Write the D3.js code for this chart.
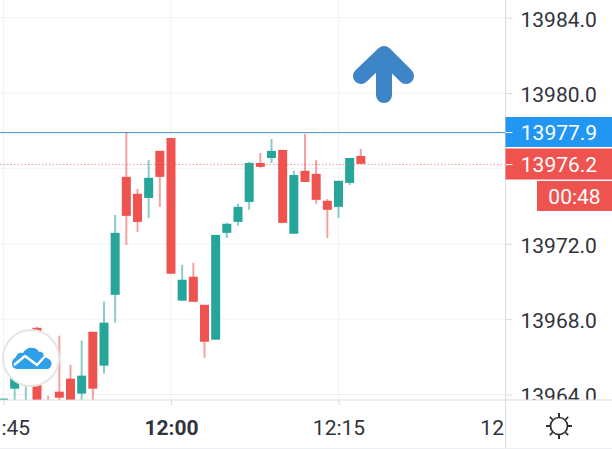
<!DOCTYPE html>
<html><head><meta charset="utf-8">
<script src="https://cdnjs.cloudflare.com/ajax/libs/d3/7.8.5/d3.min.js"></script>
<style>html,body{margin:0;padding:0;background:#fff;overflow:hidden}svg{display:block}text{font-family:Roboto,sans-serif}</style>
</head><body><svg id="c" width="612" height="449"></svg>
<script>
const minutes = [-15,-14,-13,-12,-11,-10,-9,-8,-7,-6,-5,-4,-3,-2,-1,0,1,2,3,4,5,6,7,8,9,10,11,12,13,14,15,16,17];
const opens  = [13963.2,13964.31,13965.2,13967.54,13963.7,13964.15,13964.84,13964.05,13967.33,13965.53,13969.29,13975.55,13974.65,13974.43,13976.93,13977.61,13968.98,13970.25,13968.76,13966.91,13972.58,13973.16,13974.22,13976.29,13976.55,13976.98,13972.53,13975.87,13975.71,13974.28,13973.96,13975.23,13976.66];
const highs  = [13963.78,13965.0,13966.2,13967.6,13963.94,13967.12,13965.58,13966.86,13967.33,13968.92,13973.53,13977.93,13974.91,13976.45,13976.93,13977.61,13970.88,13970.99,13968.76,13972.47,13973.12,13974.12,13976.35,13976.82,13977.56,13976.98,13975.87,13977.83,13976.45,13974.38,13975.34,13976.55,13977.03];
const lows   = [13963.2,13963.5,13963.3,13963.3,13963.3,13963.5,13963.3,13963.4,13963.5,13965.11,13967.81,13971.94,13972.63,13973.37,13973.96,13970.41,13968.98,13968.92,13965.95,13966.91,13972.31,13972.95,13973.8,13976.03,13976.29,13973.11,13972.53,13975.28,13974.12,13972.31,13973.37,13975.12,13976.24];
const closes = [13963.78,13964.9,13966.0,13963.5,13963.4,13963.83,13963.46,13965.0,13964.31,13967.81,13972.58,13973.48,13973.16,13975.5,13975.55,13970.41,13970.09,13968.92,13966.8,13972.47,13973.06,13973.96,13976.29,13976.08,13976.93,13973.11,13975.65,13975.28,13974.33,13973.8,13975.34,13976.55,13976.24];
const priceTicks = [13964,13968,13972,13976,13980,13984];
const labelledPriceTicks = [13964,13968,13972,13980,13984];
const timeTicks = [[11,45],[12,0],[12,15],[12,30]];
const askPrice = 13977.9, lastPrice = 13976.2, countdown = "00:48";

const UP="#26a69a", DOWN="#ef5350", GRID="#f2f3f5", AXIS="#d9dbdf", INK="#2f333b";
const svg=d3.select("#c");
const W=505.5, H=400;
const y=d3.scaleLinear().domain([13964,13980]).range([394.5,93]);
const at=(h,m)=>new Date(2021,0,4,h,m);
const x=d3.scaleTime().domain([at(11,45),at(12,30)]).range([3.5,506]);

const defs=svg.append("defs");
defs.append("clipPath").attr("id","pane").append("rect").attr("width",W).attr("height",H);
defs.append("clipPath").attr("id","priceClip").append("rect").attr("x",W).attr("width",612-W).attr("height",H);
defs.append("clipPath").attr("id","timeClip").append("rect").attr("y",H).attr("width",W).attr("height",449-H);

const pane=svg.append("g").attr("clip-path","url(#pane)");
pane.append("g").selectAll("line").data(priceTicks).join("line")
  .attr("x1",0).attr("x2",W).attr("y1",d=>y(d)).attr("y2",d=>y(d)).attr("stroke",GRID);
pane.append("g").selectAll("line").data(timeTicks).join("line")
  .attr("x1",d=>x(at(d[0],d[1]))).attr("x2",d=>x(at(d[0],d[1]))).attr("y1",0).attr("y2",H).attr("stroke",GRID);

const candles=minutes.map((m,i)=>({t:at(12,m),o:opens[i],h:highs[i],l:lows[i],c:closes[i]}));
const col=d=>d.c>=d.o?UP:DOWN;
pane.append("g").selectAll("line").data(candles).join("line")
  .attr("x1",d=>x(d.t)).attr("x2",d=>x(d.t)).attr("y1",d=>y(d.h)).attr("y2",d=>y(d.l))
  .attr("stroke",col).attr("stroke-width",2).attr("stroke-opacity",.55);
pane.append("g").selectAll("rect").data(candles).join("rect")
  .attr("x",d=>x(d.t)-4.5).attr("width",9)
  .attr("y",d=>y(Math.max(d.o,d.c))).attr("height",d=>Math.abs(y(d.o)-y(d.c)))
  .attr("fill",col);

pane.append("line").attr("x1",0).attr("x2",W).attr("y1",y(askPrice)).attr("y2",y(askPrice)).attr("stroke","#4a90c8").attr("stroke-width",1);
pane.append("line").attr("x1",0).attr("x2",W).attr("y1",y(lastPrice)).attr("y2",y(lastPrice)).attr("stroke",DOWN).attr("stroke-opacity",.6).attr("stroke-dasharray","1.5 2");

// arrow
const arrow=svg.append("g").attr("fill","none").attr("stroke","#3d85c6").attr("stroke-width",16).attr("stroke-linecap","round").attr("stroke-linejoin","round");
arrow.append("path").attr("d","M384 57V95");
arrow.append("path").attr("d","M361 76L384 54L406 76");

// axes
const gy=svg.append("g").attr("clip-path","url(#priceClip)");
const yAxis=d3.axisRight(y).tickValues(labelledPriceTicks).tickSize(7).tickPadding(8).tickFormat(d3.format(".1f"));
const gyInner=gy.append("g").attr("transform",`translate(${W},0)`).call(yAxis);
gyInner.select(".domain").remove();
gyInner.selectAll("line").attr("stroke",AXIS);
gyInner.selectAll("text").attr("fill",INK).attr("font-size",21).attr("font-family","Roboto").attr("dy","0.4em");

const xAxis=d3.axisBottom(x).tickValues(timeTicks.map(d=>at(d[0],d[1]))).tickSize(5).tickPadding(15).tickFormat(d3.timeFormat("%H:%M"));
const gx=svg.append("g").attr("clip-path","url(#timeClip)").append("g").attr("transform",`translate(0,${H})`).call(xAxis);
gx.select(".domain").remove();
gx.selectAll("line").attr("stroke",AXIS);
gx.selectAll("text").attr("fill",INK).attr("font-size",21).attr("font-family","Roboto")
  .attr("font-weight",d=>d.getHours()==12&&d.getMinutes()==0?700:400);

svg.append("line").attr("x1",W).attr("x2",W).attr("y1",0).attr("y2",449).attr("stroke",AXIS);
svg.append("line").attr("x1",0).attr("x2",612).attr("y1",H).attr("y2",H).attr("stroke",AXIS);
svg.append("line").attr("x1",0).attr("x2",612).attr("y1",448.5).attr("y2",448.5).attr("stroke","#eceef0");

// price labels
function tag(x0,y0,h,fill,txt,cx){
  svg.append("rect").attr("x",x0).attr("y",y0).attr("width",612-x0).attr("height",h).attr("fill",fill);
  svg.append("text").attr("x",cx).attr("y",y0+h/2).attr("dy","0.36em").attr("text-anchor","middle").attr("fill","#fff").attr("font-size",21).text(txt);
}
function tick(v){svg.append("line").attr("x1",W).attr("x2",W+7).attr("y1",y(v)).attr("y2",y(v)).attr("stroke","#fff");}
tag(W,117,30,"#2196f3",d3.format(".1f")(askPrice),559);
tick(askPrice);
tag(W,148.5,31,DOWN,d3.format(".1f")(lastPrice),559);
tick(lastPrice);
tag(537,181,30,DOWN,countdown,574.5);

// logo
const logo=svg.append("g");
logo.append("circle").attr("cx",31).attr("cy",358).attr("r",28).attr("fill","#fff").attr("stroke","#e6e6e6").attr("stroke-width",2);
logo.append("path").attr("fill","#2f9fe8").attr("d","M17 369C11 369 10 360 16 357C17 353 20 352 23 353C25 349 29 347 33 348C36 348 38 350 39 352C42 351 44 354 44 357C49 358 53 361 51 366C50 368 49 369 47 369Z");
logo.append("path").attr("fill","none").attr("stroke","#fff").attr("stroke-width",2.4).attr("stroke-linejoin","round").attr("d","M14 365L25 356L37 365L48 353");

// settings sun icon
const sun=svg.append("g").attr("transform","translate(559,426)").attr("fill","none").attr("stroke","#2b2f36").attr("stroke-width",1.7);
sun.append("circle").attr("r",8.5);
d3.range(8).forEach(i=>{const a=i*Math.PI/4;
  sun.append("line").attr("x1",Math.cos(a)*9).attr("y1",Math.sin(a)*9).attr("x2",Math.cos(a)*13).attr("y2",Math.sin(a)*13).attr("stroke-width",i%2?1.7:2);
});
</script></body></html>
